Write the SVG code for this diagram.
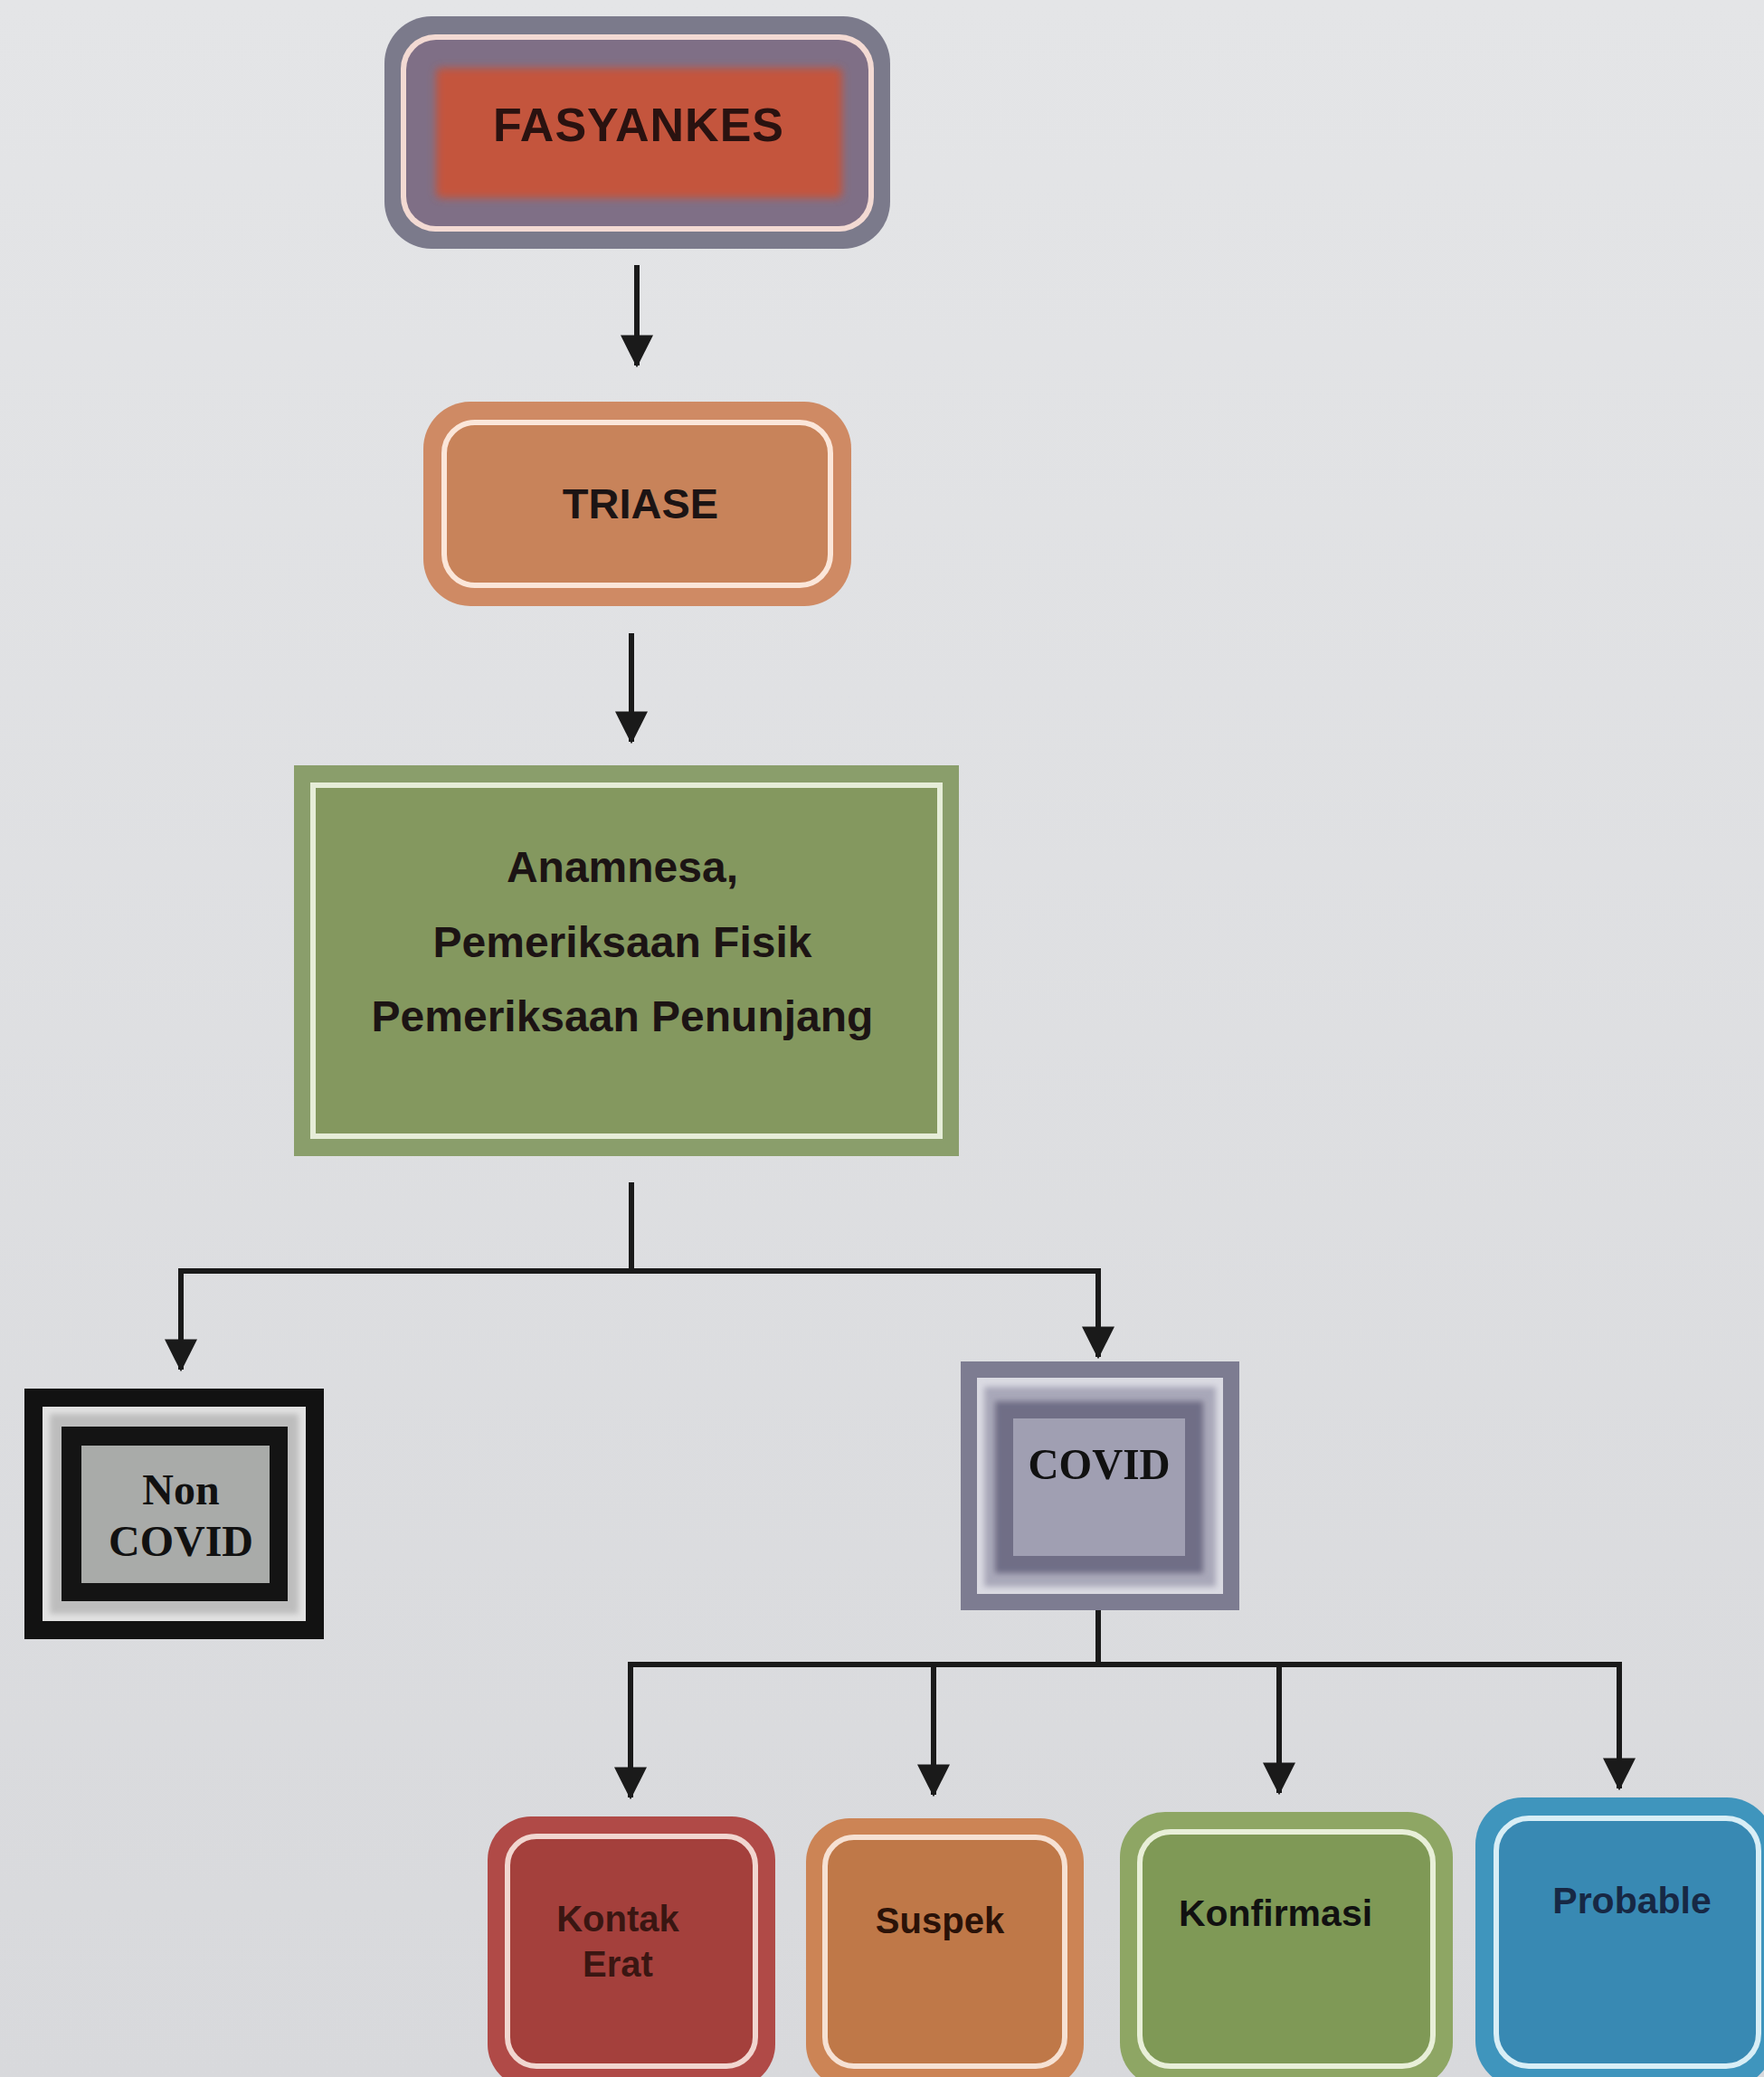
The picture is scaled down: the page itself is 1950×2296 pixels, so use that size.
<svg xmlns="http://www.w3.org/2000/svg" width="1950" height="2296" viewBox="0 0 1950 2296">
<defs>
<linearGradient id="bg" x1="0" y1="0" x2="0" y2="1">
<stop offset="0" stop-color="#e4e5e7"/>
<stop offset="1" stop-color="#d8d9dc"/>
</linearGradient>
<filter id="soft" x="-10%" y="-10%" width="120%" height="120%">
<feGaussianBlur stdDeviation="5"/>
</filter>
<filter id="soft2" x="-10%" y="-10%" width="120%" height="120%">
<feGaussianBlur stdDeviation="3"/>
</filter>
<marker id="ah" markerWidth="6" markerHeight="6" refX="5.6" refY="3" orient="auto" markerUnits="strokeWidth">
<path d="M0,0 L6,3 L0,6 z" fill="#1a1a1a"/>
</marker>
</defs>
<style>
.t{font-family:"Liberation Sans",Arial,sans-serif;font-weight:bold;text-anchor:middle;fill:#1c1414}
.s{font-family:"Liberation Serif","Times New Roman",serif;font-weight:bold;text-anchor:middle;fill:#111}
.c{fill:none;stroke:#1a1a1a;stroke-width:6}
</style>
<rect x="0" y="0" width="1950" height="2296" fill="url(#bg)"/>

<g id="connectors">
<line class="c" x1="704" y1="293" x2="704" y2="404" marker-end="url(#ah)"/>
<line class="c" x1="698" y1="700" x2="698" y2="820" marker-end="url(#ah)"/>
<polyline class="c" points="698,1307 698,1405"/>
<polyline class="c" points="200,1405 1214,1405 1214,1500" marker-end="url(#ah)"/>
<line class="c" x1="200" y1="1402" x2="200" y2="1514" marker-end="url(#ah)"/>
<polyline class="c" points="1214,1780 1214,1840"/>
<polyline class="c" points="697,1840 1790,1840 1790,1977" marker-end="url(#ah)"/>
<line class="c" x1="697" y1="1837" x2="697" y2="1987" marker-end="url(#ah)"/>
<line class="c" x1="1032" y1="1840" x2="1032" y2="1984" marker-end="url(#ah)"/>
<line class="c" x1="1414" y1="1840" x2="1414" y2="1982" marker-end="url(#ah)"/>
</g>

<g id="fasyankes">
<rect x="425" y="18" width="559" height="257" rx="52" fill="#7b7a8b"/>
<rect x="443" y="38" width="523" height="218" rx="38" fill="#f3dad3"/>
<rect x="449" y="44" width="511" height="206" rx="33" fill="#7f6f86"/>
<rect x="482" y="75" width="449" height="144" rx="6" fill="#c4553e" filter="url(#soft)"/>
<text class="t" x="706" y="156" font-size="52" letter-spacing="1" style="fill:#2a1210">FASYANKES</text>
</g>

<g id="triase">
<rect x="468" y="444" width="473" height="226" rx="52" fill="#cf8a64"/>
<rect x="491" y="467" width="427" height="180" rx="34" fill="#c8835a" stroke="#fbe6d9" stroke-width="6"/>
<text class="t" x="708" y="573" font-size="47">TRIASE</text>
</g>

<g id="pemeriksaan">
<rect x="325" y="846" width="735" height="432" fill="#8a9e6b"/>
<rect x="346" y="868" width="693" height="388" fill="#84985f" stroke="#e6edd8" stroke-width="6"/>
<text class="t" x="688" y="975" font-size="48">Anamnesa,</text>
<text class="t" x="688" y="1058" font-size="48">Pemeriksaan Fisik</text>
<text class="t" x="688" y="1140" font-size="48">Pemeriksaan Penunjang</text>
</g>

<g id="non-covid">
<rect x="27" y="1535" width="331" height="277" fill="#121212"/>
<rect x="47" y="1555" width="291" height="237" fill="#e2e2e2"/>
<rect x="55" y="1563" width="275" height="221" fill="#bdbdbd" filter="url(#soft2)"/>
<rect x="68" y="1577" width="250" height="193" fill="#141414"/>
<rect x="90" y="1598" width="208" height="152" fill="#a9aba9"/>
<text class="s" x="200" y="1663" font-size="48">Non</text>
<text class="s" x="200" y="1720" font-size="48">COVID</text>
</g>

<g id="covid">
<rect x="1062" y="1505" width="308" height="275" fill="#7d7c91"/>
<rect x="1080" y="1523" width="272" height="239" fill="#dadae2"/>
<rect x="1088" y="1533" width="256" height="221" fill="#a9a8b9" filter="url(#soft2)"/>
<rect x="1100" y="1549" width="230" height="190" fill="#6f6e86" filter="url(#soft2)"/>
<rect x="1120" y="1568" width="190" height="152" fill="#a09fb2"/>
<text class="s" x="1215" y="1635" font-size="49" textLength="157" lengthAdjust="spacingAndGlyphs">COVID</text>
</g>

<g id="kontak-erat">
<rect x="539" y="2008" width="318" height="300" rx="48" fill="#b04a47"/>
<rect x="561" y="2030" width="274" height="254" rx="32" fill="#a4403c" stroke="#f1d6d0" stroke-width="6"/>
<text class="t" x="683" y="2135" font-size="40" style="fill:#3a1612">Kontak</text>
<text class="t" x="683" y="2185" font-size="40" style="fill:#3a1612">Erat</text>
</g>

<g id="suspek">
<rect x="891" y="2010" width="307" height="298" rx="48" fill="#cc8455"/>
<rect x="912" y="2031" width="265" height="253" rx="32" fill="#bf7848" stroke="#f6e1d3" stroke-width="6"/>
<text class="t" x="1039" y="2137" font-size="40" style="fill:#2a1208">Suspek</text>
</g>

<g id="konfirmasi">
<rect x="1238" y="2003" width="368" height="305" rx="50" fill="#8ea664"/>
<rect x="1260" y="2025" width="324" height="259" rx="34" fill="#7f9956" stroke="#e8efd8" stroke-width="6"/>
<text class="t" x="1410" y="2129" font-size="41" style="fill:#111">Konfirmasi</text>
</g>

<g id="probable">
<rect x="1631" y="1987" width="330" height="321" rx="52" fill="#3f95bd"/>
<rect x="1654" y="2010" width="290" height="274" rx="36" fill="#3889b3" stroke="#d8eef6" stroke-width="6"/>
<text class="t" x="1804" y="2115" font-size="41" style="fill:#172844">Probable</text>
</g>
</svg>
